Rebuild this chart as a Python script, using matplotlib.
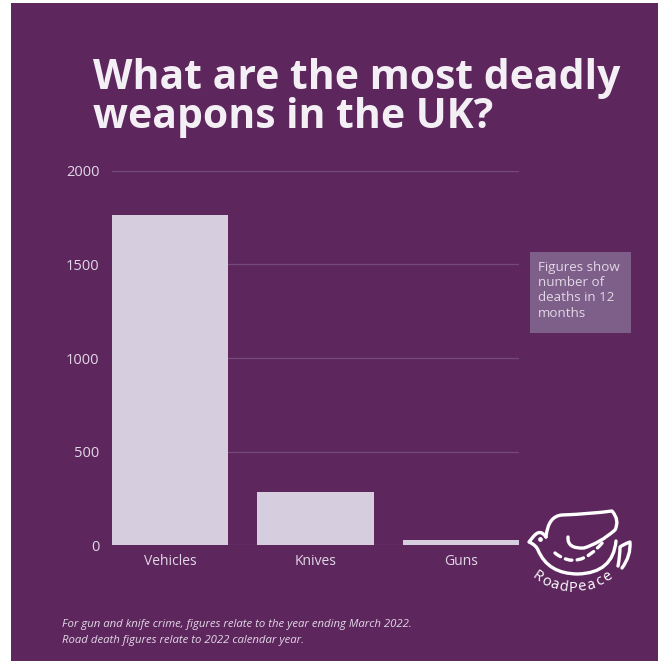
import matplotlib
matplotlib.use("Agg")
import matplotlib.pyplot as plt
from matplotlib.patches import Rectangle, PathPatch
from matplotlib.path import Path
import numpy as np

# ---- data ----
categories = ["Vehicles", "Knives", "Guns"]
deaths = [1766, 282, 28]
yticks = [0, 500, 1000, 1500, 2000]
ytick_labels = ["0", "500", "1000", "1500", "2000"]
title_lines = ["What are the most deadly", "weapons in the UK?"]
note_text = "Figures show\nnumber of\ndeaths in 12\nmonths"
foot_lines = ["For gun and knife crime, figures relate to the year ending March 2022.",
              "Road death figures relate to 2022 calendar year."]
logo_word = "RoadPeace"

# ---- style ----
W, H = 658, 661
BG = "#5d275e"
BAR = "#d6cedf"
GRID = "#76497b"
TXT = "#e2d7e6"
TITLE = "#f4eff4"
BOX = "#7d5f89"
FONT = "Open Sans"

fig = plt.figure(figsize=(W / 100, H / 100), dpi=100)
fig.patch.set_facecolor("white")

# background layer (pixel coords, y down)
bg = fig.add_axes([0, 0, 1, 1], zorder=0)
bg.set_xlim(0, W); bg.set_ylim(H, 0); bg.axis("off")
bg.add_patch(Rectangle((11, 3), W - 11, H - 3, color=BG, lw=0))

# main chart
def fx(px): return px / W
def fy(py): return 1 - py / H
left, right, top, bottom = 112, 519, 170.8, 545.3
ax = fig.add_axes([fx(left), fy(bottom), fx(right) - fx(left), fy(top) - fy(bottom)], zorder=1)
ax.patch.set_alpha(0)
x = np.arange(len(categories))
ax.bar(x, deaths, width=0.8, color=BAR, zorder=3)
ax.set_xlim(-0.4, len(categories) - 0.6)
ax.set_ylim(0, 2000)
ax.set_yticks(yticks)
ax.set_yticklabels(ytick_labels, fontsize=10.5, color=TXT, family=FONT)
ax.set_xticks(x)
ax.set_xticklabels(categories, fontsize=10, color=TXT, family=FONT)
ax.tick_params(axis="both", length=0)
ax.tick_params(axis="y", pad=9)
ax.tick_params(axis="x", pad=6.5)
for s in ax.spines.values():
    s.set_visible(False)
ax.grid(axis="y", color=GRID, lw=0.9, zorder=0)
ax.grid(axis="x", visible=False)
ax.set_axisbelow(True)

# overlay for annotations (pixel coords)
ov = fig.add_axes([0, 0, 1, 1], zorder=2)
ov.set_xlim(0, W); ov.set_ylim(H, 0); ov.axis("off")
ov.patch.set_alpha(0)

renderer = fig.canvas.get_renderer()

def fit_text(t, target_w):
    w = t.get_window_extent(renderer=renderer).width
    t.set_fontsize(t.get_fontsize() * target_w / w)

t1 = ov.text(93, 89, title_lines[0], fontsize=24, fontweight="bold", color=TITLE,
             family=FONT, va="baseline", ha="left")
fit_text(t1, 527)
t2 = ov.text(93, 128, title_lines[1], fontsize=t1.get_fontsize(), fontweight="bold",
             color=TITLE, family=FONT, va="baseline", ha="left")

# note box
ov.add_patch(Rectangle((530, 252), 101, 81, color=BOX, lw=0))
nt = ov.text(538, 261, note_text, fontsize=9.6, color=TXT, family=FONT, va="top", ha="left",
             linespacing=1.22)

# footnote
f1 = ov.text(62, 627, foot_lines[0], fontsize=8.5, style="italic", color=TXT,
             family=FONT, va="baseline", ha="left")
fit_text(f1, 348)
ov.text(62, 643, foot_lines[1], fontsize=f1.get_fontsize(), style="italic", color=TXT,
        family=FONT, va="baseline", ha="left")

# ---- logo (dove) ----
lc = "white"
lw = 2.4
def curve(pts, **kw):
    pts = np.array(pts, float)
    codes = [Path.MOVETO] + [Path.CURVE3] * (len(pts) - 1)
    if (len(pts) - 1) % 2:
        codes = [Path.MOVETO] + [Path.CURVE3] * (len(pts) - 2) + [Path.LINETO]
    ov.add_patch(PathPatch(Path(pts, codes), fill=False, ec=lc, lw=kw.get("lw", lw),
                           ls=kw.get("ls", "-"), capstyle="round", joinstyle="round"))

# wing
curve([(546, 537), (548, 516), (562, 515), (590, 514), (612, 511),
       (620, 520), (615, 530), (600, 543), (584, 548), (567, 549), (568, 537)])
# head & body
curve([(546, 537), (540, 528), (533, 537), (529, 542), (529, 542),
       (536, 545), (538, 550), (548, 574), (578, 574), (613, 573), (616, 541)])
# tail
curve([(618, 566), (620, 556), (620, 547), (624, 544), (630, 542),
       (631, 556), (622, 568)])
# road (dashed)
curve([(555, 553), (578, 572), (603, 542)], ls=(0, (2.0, 1.6)), lw=2.4)
ov.plot([540], [539], "o", color=lc, ms=2.4)

# curved logo text
cx, cy, r = 572.5, 527, 61
n = len(logo_word)
angles = np.linspace(-35, 35, n)
for ch, a in zip(logo_word, angles):
    ar = np.radians(a)
    px = cx + r * np.sin(ar)
    py = cy + r * np.cos(ar)
    ov.text(px, py, ch, fontsize=10.5, color=lc, family=FONT, ha="center", va="center",
            rotation=a)

fig.savefig("out.png", dpi=100, facecolor=fig.get_facecolor())
